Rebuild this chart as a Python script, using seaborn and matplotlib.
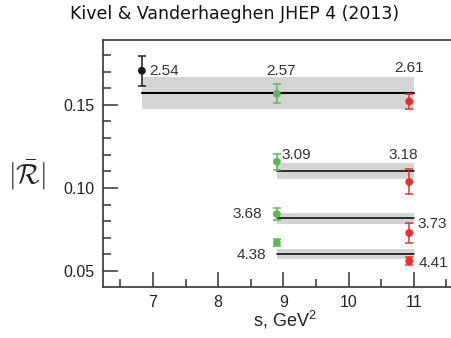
import matplotlib
matplotlib.use("Agg")
import matplotlib.pyplot as plt
import seaborn as sns
import pandas as pd
import numpy as np
from matplotlib.ticker import MultipleLocator

# ---- data ----
band_s_start = [6.83, 8.9, 8.9, 8.9]
band_s_end = [11.0, 11.0, 11.0, 11.0]
band_center = [0.157, 0.1102, 0.0819, 0.0602]
band_half = [0.0095, 0.0046, 0.0033, 0.0031]

black_s = [6.83]
black_R = [0.1705]
black_err = [0.0090]

green_s = [8.9, 8.9, 8.9, 8.9]
green_R = [0.1566, 0.1158, 0.0843, 0.0670]
green_err = [0.0057, 0.0048, 0.0037, 0.0022]

red_s = [10.93, 10.93, 10.93, 10.93]
red_R = [0.1520, 0.1036, 0.0729, 0.0560]
red_err = [0.0048, 0.0075, 0.0060, 0.0022]

labels = ["2.54", "2.57", "2.61", "3.09", "3.18", "3.68", "3.73", "4.38", "4.41"]

title = "Kivel & Vanderhaeghen JHEP 4 (2013)"

# ---- style ----
sns.set_theme(style="ticks")
plt.rcParams['font.family'] = ['Liberation Sans', 'DejaVu Sans']
plt.rcParams['mathtext.fontset'] = 'cm'
plt.rcParams['xtick.direction'] = 'in'
plt.rcParams['ytick.direction'] = 'in'

fig = plt.figure(figsize=(4.51, 3.38), dpi=100)
ax = fig.add_axes([103/451, 1-287/338, 1-103/451, (287-40)/338])

GREEN = "#5cb85a"
RED = "#e8302a"
BLACK = "#1a1a1a"
BAND = "#d4d4d4"

# bands and central lines
for i in range(4):
    xs = [band_s_start[i], band_s_end[i]]
    ax.fill_between(xs, band_center[i]-band_half[i], band_center[i]+band_half[i],
                    color=BAND, lw=0, zorder=1)
    df = pd.DataFrame({"s": xs, "R": [band_center[i]]*2})
    sns.lineplot(data=df, x="s", y="R", ax=ax, color="black",
                 lw=1.5 if i == 0 else 1.1, zorder=2)

# points
for s, R, e, c in [(black_s, black_R, black_err, BLACK),
                   (green_s, green_R, green_err, GREEN),
                   (red_s, red_R, red_err, RED)]:
    ax.errorbar(s, R, yerr=e, fmt="none", ecolor=c, elinewidth=1.1,
                capsize=3, capthick=1.1, zorder=3)
    sns.scatterplot(x=s, y=R, ax=ax, color=c, s=32, edgecolor="none", zorder=4)

# value labels
tc = "#333333"
fs = 11
ax.text(6.95, black_R[0], labels[0], ha="left", va="center", fontsize=fs, color=tc)
ax.text(8.97, 0.1705, labels[1], ha="center", va="center", fontsize=fs, color=tc)
ax.text(10.93, 0.1723, labels[2], ha="center", va="center", fontsize=fs, color=tc)
ax.text(8.97, 0.1199, labels[3], ha="left", va="center", fontsize=fs, color=tc)
ax.text(10.84, 0.1199, labels[4], ha="center", va="center", fontsize=fs, color=tc)
ax.text(8.67, 0.0843, labels[5], ha="right", va="center", fontsize=fs, color=tc)
ax.text(11.06, 0.0783, labels[6], ha="left", va="center", fontsize=fs, color=tc)
ax.text(8.73, 0.0596, labels[7], ha="right", va="center", fontsize=fs, color=tc)
ax.text(11.07, 0.0550, labels[8], ha="left", va="center", fontsize=fs, color=tc)

ax.set_xlim(6.234, 11.57)
ax.set_ylim(0.0404, 0.189)
ax.xaxis.set_major_locator(MultipleLocator(1))
ax.xaxis.set_minor_locator(MultipleLocator(0.5))
ax.yaxis.set_major_locator(MultipleLocator(0.05))
ax.yaxis.set_minor_locator(MultipleLocator(0.01))
ax.yaxis.set_major_formatter(plt.FuncFormatter(lambda v, p: f"{v:.2f}"))

ax.tick_params(axis="both", which="major", direction="in", length=11, width=1.1,
               color="#333333", labelsize=11.5, labelcolor="#222222", pad=6)
ax.tick_params(axis="both", which="minor", direction="in", length=6, width=1.1,
               color="#333333")
ax.tick_params(axis="y", which="both", right=False, left=True)
ax.tick_params(axis="x", which="both", top=False, bottom=True)

for sp in ["left", "bottom", "top"]:
    ax.spines[sp].set_visible(True)
    ax.spines[sp].set_linewidth(1.2)
    ax.spines[sp].set_color("#333333")
ax.spines["right"].set_visible(False)

ax.set_xlabel("")
ax.set_ylabel("")
fig.text(285/451, 1-320/338, r"s, GeV$^\mathregular{2}$", ha="center", va="center",
         fontsize=13, color="#222222")
fig.text(27/451, 1-175/338, r"$|\bar{\mathcal{R}}|$", ha="center", va="center",
         fontsize=20, color="#222222")
fig.text(235/451, 1-14/338, title, ha="center", va="center", fontsize=12.5,
         family=["DejaVu Sans"], color="#111111")

fig.savefig("out.png", dpi=100)
